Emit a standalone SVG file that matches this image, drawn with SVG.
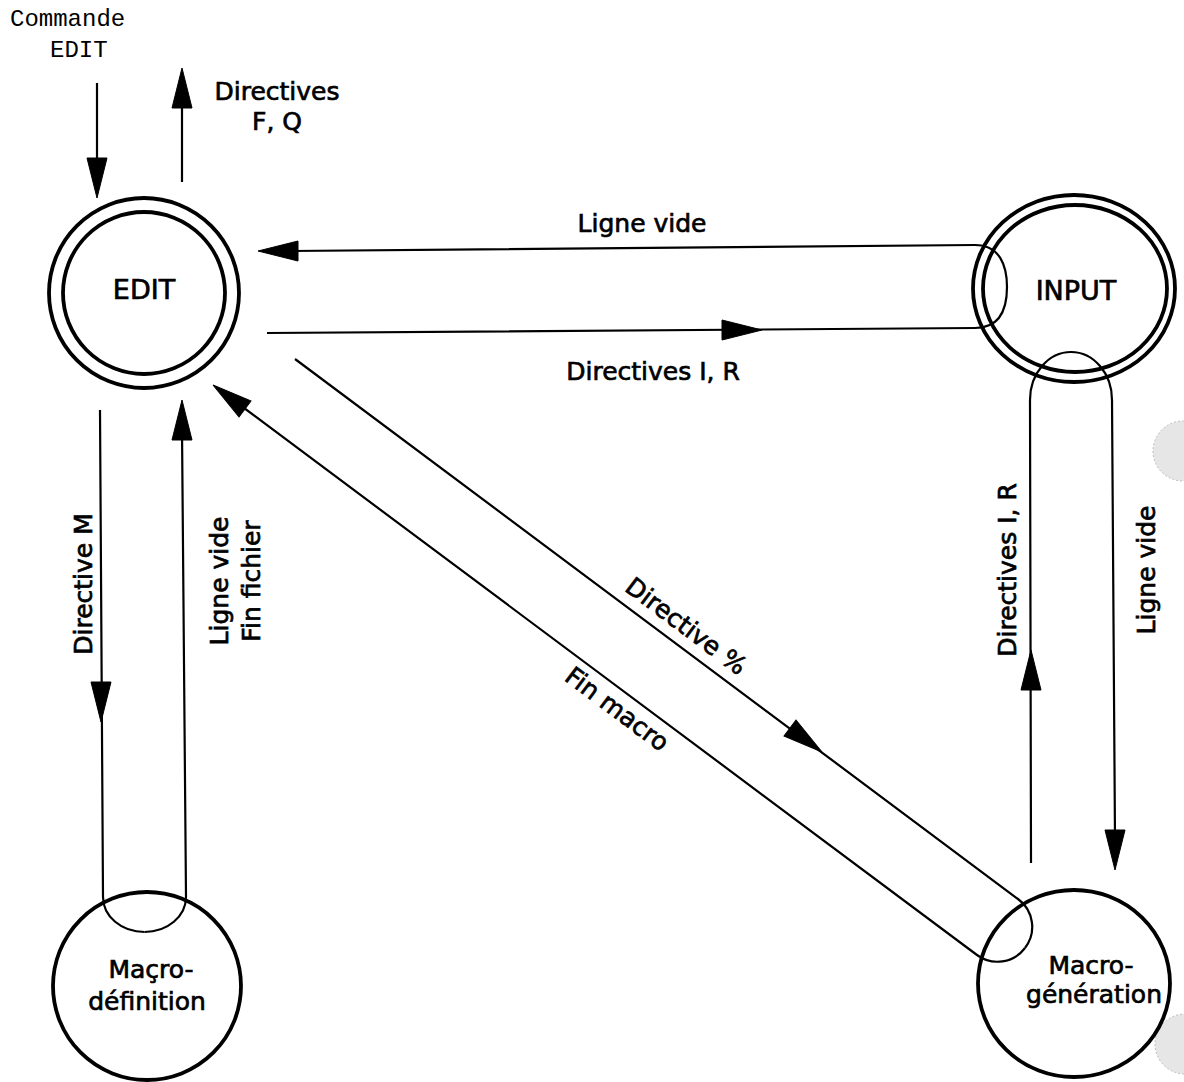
<svg xmlns="http://www.w3.org/2000/svg" xmlns:xlink="http://www.w3.org/1999/xlink" width="1184" height="1082" viewBox="0 0 1184 1082">
<style>
.node{fill:none;stroke:#000;stroke-width:3.8}
.conn{fill:none;stroke:#000;stroke-width:2.2}
.ah{fill:#000;stroke:#000;stroke-width:1}
.lbl,.nlbl,.mlbl{font-family:"DejaVu Sans","Liberation Sans",sans-serif;fill:#000;stroke:#000;stroke-width:0.7;text-anchor:middle}
.lbl{font-size:25px}
.nlbl{font-size:27px}
.mlbl{font-size:25px}
.mono{font-family:"Liberation Mono","DejaVu Sans Mono",monospace;font-size:24px;fill:#000}
.spot{fill:#e6e6e6;stroke:#bdbdbd;stroke-width:1;stroke-dasharray:2 2}
</style>
<defs>
<path id="ah" d="M0,0 L-40,-10 L-40,10 Z"/>
</defs>
<rect width="1184" height="1082" fill="#fff"/>

<!-- scan artifacts -->
<circle class="spot" cx="1183" cy="451" r="30"/>
<circle class="spot" cx="1185" cy="1044" r="30"/>

<g id="edit">
<circle class="node" cx="144" cy="293" r="95"/>
<circle class="node" cx="144" cy="293" r="81"/>
<text class="nlbl" x="144" y="299">EDIT</text>
</g>
<g id="input">
<ellipse class="node" cx="1074" cy="288.5" rx="101" ry="93.5"/>
<ellipse class="node" cx="1075" cy="288.5" rx="92" ry="83.5"/>
<text class="nlbl" x="1076" y="300">INPUT</text>
</g>
<g id="macrodef">
<circle class="node" cx="147" cy="986" r="94"/>
<text class="mlbl" x="151" y="978">Maçro-</text>
<text class="mlbl" x="147" y="1010">définition</text>
</g>
<g id="macrogen">
<ellipse class="node" cx="1074" cy="983.5" rx="96" ry="93.5"/>
<text class="mlbl" x="1091" y="974">Macro-</text>
<text class="mlbl" x="1094" y="1003">génération</text>
</g>

<g id="connectors">
<!-- Commande EDIT -->
<path class="conn" d="M97,83 L97,165"/>
<use href="#ah" class="ah" transform="translate(97,198) rotate(90)"/>
<!-- Directives F, Q -->
<path class="conn" d="M182,182 L182,100"/>
<use href="#ah" class="ah" transform="translate(182,68) rotate(-90)"/>
<!-- EDIT -> INPUT : Directives I, R -->
<path class="conn" d="M267,333 L975,328 C1000,328 1007,309 1007,287"/>
<use href="#ah" class="ah" transform="translate(762,330) rotate(0)"/>
<!-- INPUT -> EDIT : Ligne vide -->
<path class="conn" d="M1007,287 C1007,266 1000,245 975,245 L290,251"/>
<use href="#ah" class="ah" transform="translate(258,251) rotate(180)"/>
<!-- EDIT -> Macro-definition : Directive M -->
<path class="conn" d="M100,410 L103,897 A41.5,35 0 0 0 144.5,932"/>
<use href="#ah" class="ah" transform="translate(101,722) rotate(90)"/>
<!-- Macro-definition -> EDIT : Ligne vide / Fin fichier -->
<path class="conn" d="M144.5,932 A41.5,35 0 0 0 186,897 L182,430"/>
<use href="#ah" class="ah" transform="translate(182,400) rotate(-90)"/>
<!-- EDIT -> Macro-generation : Directive % -->
<path class="conn" d="M295,359 L1018,899 A34.5,34.5 0 0 1 1025,948"/>
<use href="#ah" class="ah" transform="translate(822,752) rotate(36.87)"/>
<!-- Macro-generation -> EDIT : Fin macro -->
<path class="conn" d="M1025,948 A34.5,34.5 0 0 1 977,955 L240,405"/>
<use href="#ah" class="ah" transform="translate(213,385) rotate(216.87)"/>
<!-- Macro-generation -> INPUT : Directives I, R -->
<path class="conn" d="M1031,863 L1030,400 A41,48 0 0 1 1071,352"/>
<use href="#ah" class="ah" transform="translate(1031,650) rotate(-90)"/>
<!-- INPUT -> Macro-generation : Ligne vide -->
<path class="conn" d="M1071,352 A41,48 0 0 1 1112,400 L1115,840"/>
<use href="#ah" class="ah" transform="translate(1115,870) rotate(90)"/>
</g>

<g id="labels">
<text class="mono" x="10" y="26">Commande</text>
<text class="mono" x="50" y="57">EDIT</text>
<text class="lbl" x="277" y="100">Directives</text>
<text class="lbl" x="277" y="130">F, Q</text>
<text class="lbl" x="642" y="232">Ligne vide</text>
<text class="lbl" x="653" y="380">Directives I, R</text>
<text class="lbl" transform="translate(92,584) rotate(-90)">Directive M</text>
<text class="lbl" transform="translate(228,581) rotate(-90)">Ligne vide</text>
<text class="lbl" transform="translate(260,581) rotate(-90)">Fin fichier</text>
<text class="lbl" transform="translate(681,633) rotate(36.87)">Directive %</text>
<text class="lbl" transform="translate(612,716) rotate(36.87)">Fin macro</text>
<text class="lbl" transform="translate(1016,570) rotate(-90)">Directives I, R</text>
<text class="lbl" transform="translate(1155,570) rotate(-90)">Ligne vide</text>
</g>
</svg>
